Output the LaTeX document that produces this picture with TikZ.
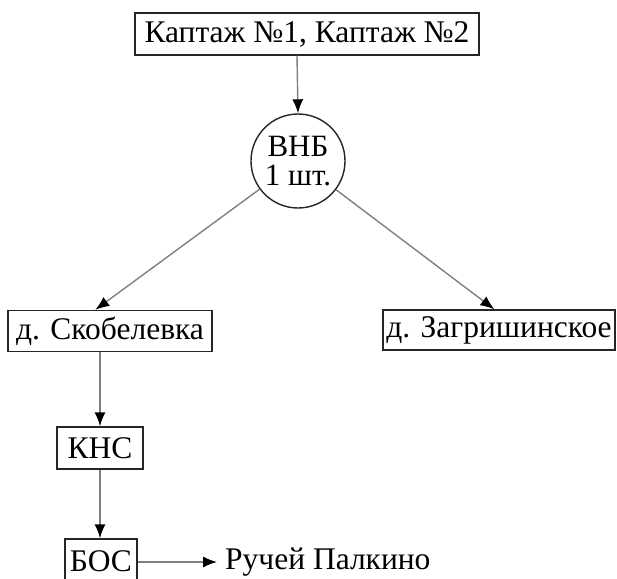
\documentclass[tikz,border=0pt]{standalone}
\usepackage{fontspec}
\setmainfont{Liberation Serif}
\usetikzlibrary{arrows.meta,calc}
\begin{document}
\begin{tikzpicture}[x=1pt,y=-1pt,
  box/.style={draw=black!85, line width=1.4pt, fill=white, inner sep=0pt, font=\fontsize{31.5}{34}\selectfont},
  circ/.style={circle, draw=black!85, line width=1.4pt, fill=white, minimum size=94pt, inner sep=0pt, align=center, font=\fontsize{31}{29}\selectfont},
  conn/.style={draw=black!50, line width=1.4pt, -{Latex[length=14pt,width=11pt,color=black]}},
  lbl/.style={inner sep=0pt, font=\fontsize{31.5}{34}\selectfont}]
\useasboundingbox (0,0) rectangle (617,578);
\node[box, minimum width=344pt, minimum height=42pt] (kap) at (307,34) {Каптаж №1, Каптаж №2};
\node[circ] (vnb) at (298,161) {ВНБ\\1 шт.};
\node[box, minimum width=204pt, minimum height=41pt] (skob) at (110,331) {д. Скобелевка};
\node[box, minimum width=232pt, minimum height=40pt] (zagr) at (499,330) {д. Загришинское};
\node[box, minimum width=86pt, minimum height=42pt] (kns) at (100,448) {КНС};
\node[box, minimum width=72pt, minimum height=44pt] (bos) at (101,561) {БОС};
\node[lbl, anchor=west] (ruch) at (225,562) {Ручей Палкино};
\coordinate (skobin) at ($(skob.north west)+(88,0)$);
\coordinate (zagrin) at ($(zagr.north west)+(112,0)$);
\coordinate (kapout) at ($(kap.south)+(-10,0)$);
\draw[conn] (kapout) -- (vnb.north);
\draw[conn] (vnb) -- (skobin);
\draw[conn] (vnb) -- (zagrin);
\draw[conn] (kns.north |- skob.south) -- (kns.north);
\draw[conn] (kns.south) -- (kns.south |- bos.north);
\draw[conn, shorten >=8pt] (bos.east |- ruch.west) -- (ruch.west);
\end{tikzpicture}
\end{document}
